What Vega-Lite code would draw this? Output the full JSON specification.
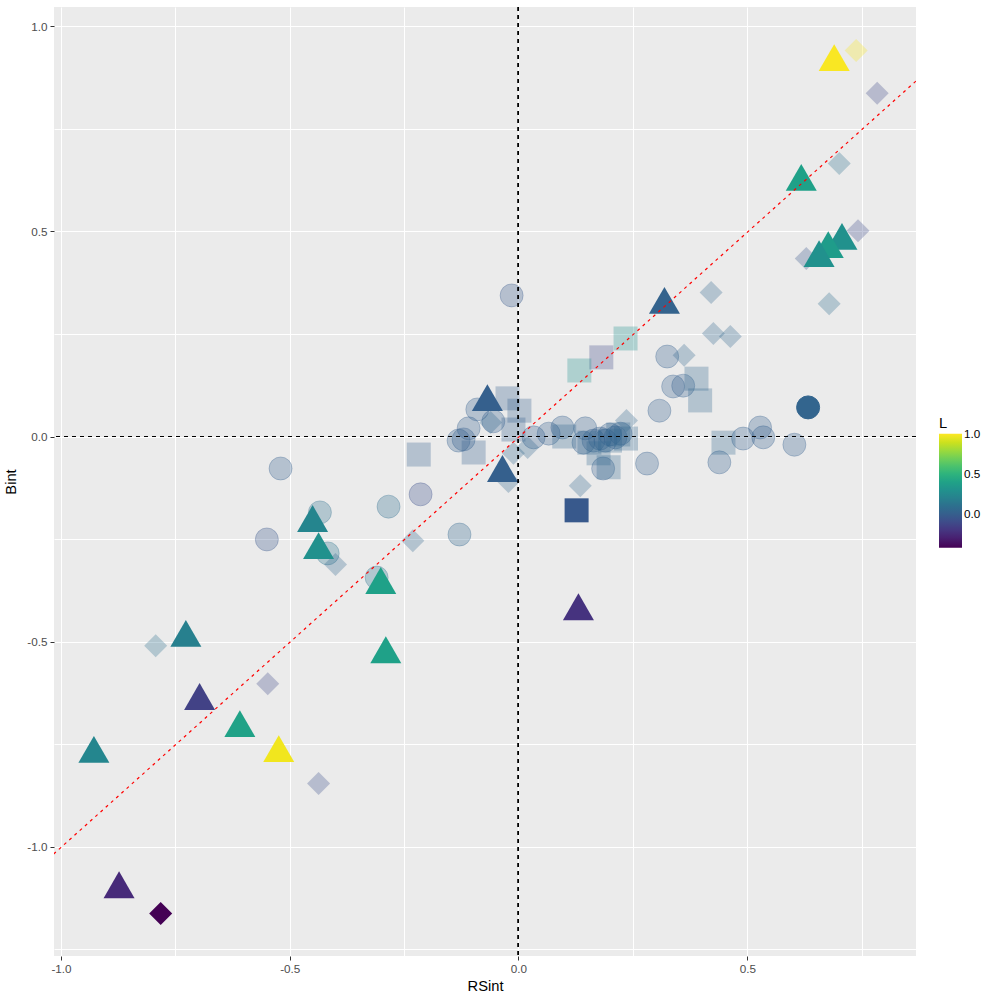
{
  "$schema": "https://vega.github.io/schema/vega-lite/v6.json",
  "description": "Bint vs RSint scatter, shape by type, colour by L, faded points not significant",
  "autosize": "none",
  "width": 862,
  "height": 949,
  "padding": {"left": 54, "top": 7, "right": 84, "bottom": 44},
  "background": "white",
  "config": {
    "font": "Liberation Sans",
    "view": {"fill": "#EBEBEB", "stroke": null},
    "axis": {
      "domain": false,
      "grid": true,
      "gridColor": "white",
      "gridWidth": 1,
      "tickColor": "#333333",
      "tickSize": 4,
      "tickWidth": 1,
      "labelColor": "#4D4D4D",
      "labelFontSize": 11.7,
      "labelPadding": 3,
      "titleColor": "black",
      "titleFontSize": 14.7,
      "titleFontWeight": "normal"
    },
    "legend": {
      "labelFont": "Liberation Sans",
      "labelFontSize": 11.7,
      "labelColor": "black",
      "labelOffset": 6,
      "titleFont": "Liberation Sans",
      "titleFontSize": 14.7,
      "titleFontWeight": "normal",
      "titleColor": "black"
    }
  },
  "datasets": {
    "pts": [
      {"RSint": -0.520, "Bint": -0.078, "L": 0.0, "type": "circle", "sig": "no"},
      {"RSint": -0.434, "Bint": -0.185, "L": 0.1, "type": "circle", "sig": "no"},
      {"RSint": -0.550, "Bint": -0.251, "L": -0.05, "type": "circle", "sig": "no"},
      {"RSint": -0.417, "Bint": -0.285, "L": 0.12, "type": "circle", "sig": "no"},
      {"RSint": -0.310, "Bint": -0.344, "L": 0.12, "type": "circle", "sig": "no"},
      {"RSint": -0.284, "Bint": -0.171, "L": 0.08, "type": "circle", "sig": "no"},
      {"RSint": -0.214, "Bint": -0.141, "L": -0.08, "type": "circle", "sig": "no"},
      {"RSint": -0.129, "Bint": -0.239, "L": 0.05, "type": "circle", "sig": "no"},
      {"RSint": -0.015, "Bint": 0.344, "L": -0.03, "type": "circle", "sig": "no"},
      {"RSint": -0.090, "Bint": 0.066, "L": 0.0, "type": "circle", "sig": "no"},
      {"RSint": -0.055, "Bint": 0.037, "L": 0.0, "type": "circle", "sig": "no"},
      {"RSint": -0.109, "Bint": 0.020, "L": 0.0, "type": "circle", "sig": "no"},
      {"RSint": -0.131, "Bint": -0.010, "L": 0.0, "type": "circle", "sig": "no"},
      {"RSint": -0.120, "Bint": -0.007, "L": 0.0, "type": "circle", "sig": "no"},
      {"RSint": 0.033, "Bint": -0.002, "L": 0.0, "type": "circle", "sig": "no"},
      {"RSint": 0.066, "Bint": 0.007, "L": 0.0, "type": "circle", "sig": "no"},
      {"RSint": 0.096, "Bint": 0.022, "L": 0.0, "type": "circle", "sig": "no"},
      {"RSint": 0.146, "Bint": 0.020, "L": 0.0, "type": "circle", "sig": "no"},
      {"RSint": 0.142, "Bint": -0.015, "L": 0.0, "type": "circle", "sig": "no"},
      {"RSint": 0.164, "Bint": -0.010, "L": 0.0, "type": "circle", "sig": "no"},
      {"RSint": 0.190, "Bint": -0.010, "L": 0.0, "type": "circle", "sig": "no"},
      {"RSint": 0.212, "Bint": -0.002, "L": 0.0, "type": "circle", "sig": "no"},
      {"RSint": 0.223, "Bint": 0.007, "L": 0.0, "type": "circle", "sig": "no"},
      {"RSint": 0.185, "Bint": -0.078, "L": 0.0, "type": "circle", "sig": "no"},
      {"RSint": 0.281, "Bint": -0.066, "L": 0.0, "type": "circle", "sig": "no"},
      {"RSint": 0.308, "Bint": 0.063, "L": 0.0, "type": "circle", "sig": "no"},
      {"RSint": 0.325, "Bint": 0.195, "L": 0.0, "type": "circle", "sig": "no"},
      {"RSint": 0.338, "Bint": 0.122, "L": 0.0, "type": "circle", "sig": "no"},
      {"RSint": 0.360, "Bint": 0.124, "L": 0.0, "type": "circle", "sig": "no"},
      {"RSint": 0.528, "Bint": 0.022, "L": 0.0, "type": "circle", "sig": "no"},
      {"RSint": 0.535, "Bint": -0.002, "L": 0.0, "type": "circle", "sig": "no"},
      {"RSint": 0.491, "Bint": -0.005, "L": 0.0, "type": "circle", "sig": "no"},
      {"RSint": 0.439, "Bint": -0.063, "L": 0.0, "type": "circle", "sig": "no"},
      {"RSint": 0.603, "Bint": -0.020, "L": 0.0, "type": "circle", "sig": "no"},
      {"RSint": 0.200, "Bint": 0.005, "L": 0.0, "type": "circle", "sig": "no"},
      {"RSint": 0.178, "Bint": -0.005, "L": 0.0, "type": "circle", "sig": "no"},
      {"RSint": 0.633, "Bint": 0.071, "L": 0.03, "type": "circle", "sig": "yes"},

      {"RSint": -0.218, "Bint": -0.044, "L": 0.0, "type": "square", "sig": "no"},
      {"RSint": -0.098, "Bint": -0.039, "L": 0.0, "type": "square", "sig": "no"},
      {"RSint": -0.024, "Bint": 0.093, "L": 0.0, "type": "square", "sig": "no"},
      {"RSint": 0.002, "Bint": 0.063, "L": 0.0, "type": "square", "sig": "no"},
      {"RSint": -0.011, "Bint": 0.017, "L": 0.0, "type": "square", "sig": "no"},
      {"RSint": 0.234, "Bint": 0.239, "L": 0.3, "type": "square", "sig": "no"},
      {"RSint": 0.181, "Bint": 0.193, "L": -0.12, "type": "square", "sig": "no"},
      {"RSint": 0.133, "Bint": 0.161, "L": 0.3, "type": "square", "sig": "no"},
      {"RSint": 0.389, "Bint": 0.141, "L": 0.05, "type": "square", "sig": "no"},
      {"RSint": 0.397, "Bint": 0.088, "L": 0.05, "type": "square", "sig": "no"},
      {"RSint": 0.448, "Bint": -0.015, "L": 0.05, "type": "square", "sig": "no"},
      {"RSint": 0.175, "Bint": -0.041, "L": 0.05, "type": "square", "sig": "no"},
      {"RSint": 0.197, "Bint": -0.075, "L": 0.05, "type": "square", "sig": "no"},
      {"RSint": 0.100, "Bint": 0.000, "L": 0.05, "type": "square", "sig": "no"},
      {"RSint": 0.155, "Bint": -0.015, "L": 0.05, "type": "square", "sig": "no"},
      {"RSint": 0.200, "Bint": -0.010, "L": 0.05, "type": "square", "sig": "no"},
      {"RSint": 0.218, "Bint": 0.005, "L": 0.05, "type": "square", "sig": "no"},
      {"RSint": 0.235, "Bint": -0.005, "L": 0.05, "type": "square", "sig": "no"},

      {"RSint": 0.738, "Bint": 0.941, "L": 1.0, "type": "diamond", "sig": "no"},
      {"RSint": 0.784, "Bint": 0.837, "L": -0.12, "type": "diamond", "sig": "no"},
      {"RSint": 0.701, "Bint": 0.666, "L": 0.1, "type": "diamond", "sig": "no"},
      {"RSint": 0.742, "Bint": 0.502, "L": -0.1, "type": "diamond", "sig": "no"},
      {"RSint": 0.629, "Bint": 0.434, "L": -0.05, "type": "diamond", "sig": "no"},
      {"RSint": 0.679, "Bint": 0.324, "L": 0.08, "type": "diamond", "sig": "no"},
      {"RSint": -0.793, "Bint": -0.510, "L": 0.1, "type": "diamond", "sig": "no"},
      {"RSint": -0.548, "Bint": -0.603, "L": -0.12, "type": "diamond", "sig": "no"},
      {"RSint": -0.437, "Bint": -0.846, "L": -0.08, "type": "diamond", "sig": "no"},
      {"RSint": -0.400, "Bint": -0.312, "L": 0.05, "type": "diamond", "sig": "no"},
      {"RSint": -0.231, "Bint": -0.254, "L": 0.05, "type": "diamond", "sig": "no"},
      {"RSint": -0.022, "Bint": -0.110, "L": 0.05, "type": "diamond", "sig": "no"},
      {"RSint": -0.011, "Bint": -0.041, "L": 0.05, "type": "diamond", "sig": "no"},
      {"RSint": 0.020, "Bint": -0.027, "L": 0.05, "type": "diamond", "sig": "no"},
      {"RSint": -0.061, "Bint": 0.034, "L": 0.05, "type": "diamond", "sig": "no"},
      {"RSint": 0.135, "Bint": -0.120, "L": 0.05, "type": "diamond", "sig": "no"},
      {"RSint": 0.236, "Bint": 0.039, "L": 0.05, "type": "diamond", "sig": "no"},
      {"RSint": 0.362, "Bint": 0.198, "L": 0.05, "type": "diamond", "sig": "no"},
      {"RSint": 0.426, "Bint": 0.251, "L": 0.05, "type": "diamond", "sig": "no"},
      {"RSint": 0.463, "Bint": 0.244, "L": 0.05, "type": "diamond", "sig": "no"},
      {"RSint": 0.421, "Bint": 0.351, "L": 0.05, "type": "diamond", "sig": "no"},

      {"RSint": 0.127, "Bint": -0.180, "L": -0.03, "type": "square", "sig": "yes"},
      {"RSint": -0.782, "Bint": -1.163, "L": -0.43, "type": "diamond", "sig": "yes"},

      {"RSint": 0.690, "Bint": 0.924, "L": 1.0, "type": "triangle", "sig": "yes"},
      {"RSint": 0.618, "Bint": 0.632, "L": 0.39, "type": "triangle", "sig": "yes"},
      {"RSint": 0.707, "Bint": 0.488, "L": 0.29, "type": "triangle", "sig": "yes"},
      {"RSint": 0.677, "Bint": 0.468, "L": 0.36, "type": "triangle", "sig": "yes"},
      {"RSint": 0.657, "Bint": 0.446, "L": 0.29, "type": "triangle", "sig": "yes"},
      {"RSint": -0.727, "Bint": -0.480, "L": 0.19, "type": "triangle", "sig": "yes"},
      {"RSint": -0.697, "Bint": -0.634, "L": -0.15, "type": "triangle", "sig": "yes"},
      {"RSint": -0.609, "Bint": -0.700, "L": 0.40, "type": "triangle", "sig": "yes"},
      {"RSint": -0.928, "Bint": -0.763, "L": 0.23, "type": "triangle", "sig": "yes"},
      {"RSint": -0.524, "Bint": -0.761, "L": 0.98, "type": "triangle", "sig": "yes"},
      {"RSint": -0.873, "Bint": -1.093, "L": -0.26, "type": "triangle", "sig": "yes"},
      {"RSint": -0.450, "Bint": -0.200, "L": 0.22, "type": "triangle", "sig": "yes"},
      {"RSint": -0.437, "Bint": -0.266, "L": 0.29, "type": "triangle", "sig": "yes"},
      {"RSint": -0.301, "Bint": -0.351, "L": 0.39, "type": "triangle", "sig": "yes"},
      {"RSint": -0.290, "Bint": -0.520, "L": 0.39, "type": "triangle", "sig": "yes"},
      {"RSint": -0.035, "Bint": -0.078, "L": 0.0, "type": "triangle", "sig": "yes"},
      {"RSint": -0.068, "Bint": 0.095, "L": 0.0, "type": "triangle", "sig": "yes"},
      {"RSint": 0.319, "Bint": 0.332, "L": 0.02, "type": "triangle", "sig": "yes"},
      {"RSint": 0.131, "Bint": -0.415, "L": -0.22, "type": "triangle", "sig": "yes"}
    ],
    "diag": [
      {"RSint": -1.016, "Bint": -1.018},
      {"RSint": 0.870, "Bint": 0.868}
    ]
  },
  "data": {"name": "pts"},
  "encoding": {
    "x": {
      "field": "RSint", "type": "quantitative", "title": "RSint",
      "scale": {"domain": [-1.0152, 0.8688], "nice": false, "zero": false},
      "axis": {
        "values": [-1, -0.75, -0.5, -0.25, 0, 0.25, 0.5, 0.75],
        "labelExpr": "abs(datum.value*2 - round(datum.value*2)) < 0.001 ? replace(format(datum.value, '.1f'), '\u2212', '-') : ''",
        "tickOpacity": {"condition": {"test": "abs(datum.value*2 - round(datum.value*2)) < 0.001", "value": 1}, "value": 0},
        "titlePadding": 4
      }
    },
    "y": {
      "field": "Bint", "type": "quantitative", "title": "Bint",
      "scale": {"domain": [-1.2667, 1.0473], "nice": false, "zero": false},
      "axis": {
        "values": [-1.25, -1, -0.75, -0.5, -0.25, 0, 0.25, 0.5, 0.75, 1],
        "labelExpr": "abs(datum.value*2 - round(datum.value*2)) < 0.001 ? replace(format(datum.value, '.1f'), '\u2212', '-') : ''",
        "tickOpacity": {"condition": {"test": "abs(datum.value*2 - round(datum.value*2)) < 0.001", "value": 1}, "value": 0},
        "titlePadding": 8
      }
    }
  },
  "layer": [
    {
      "transform": [{"filter": "datum.type === 'circle'"}],
      "mark": {"type": "point", "shape": "circle", "filled": true, "size": 529, "strokeWidth": 0, "opacity": 1},
      "encoding": {
        "color": {
          "field": "L", "type": "quantitative", "title": "L",
          "scale": {"scheme": "viridis", "domain": [-0.43, 1.01]},
          "legend": {
            "orient": "none", "legendX": 885, "legendY": 409, "direction": "vertical",
            "values": [0, 0.5, 1], "format": ".1f",
            "gradientLength": 114, "gradientThickness": 23, "gradientStrokeWidth": 0,
            "titlePadding": 3
          }
        },
        "fillOpacity": {"field": "sig", "type": "nominal", "scale": {"type": "ordinal", "domain": ["no", "yes"], "range": [0.3, 1]}, "legend": null}
      }
    },
    {
      "transform": [{"filter": "datum.type === 'circle'"}],
      "mark": {"type": "point", "shape": "circle", "filled": false, "size": 529, "strokeWidth": 1, "opacity": 1},
      "encoding": {
        "stroke": {"field": "L", "type": "quantitative", "scale": {"scheme": "viridis", "domain": [-0.4300001, 1.0100001]}, "legend": null},
        "strokeOpacity": {"field": "sig", "type": "nominal", "scale": {"type": "ordinal", "domain": ["no", "yes"], "range": [0.3, 1]}, "legend": null}
      }
    },
    {
      "transform": [{"filter": "datum.type !== 'circle'"}],
      "mark": {"type": "point", "filled": true, "strokeWidth": 0, "opacity": 1},
      "encoding": {
        "color": {"field": "L", "type": "quantitative"},
        "shape": {"field": "type", "type": "nominal", "scale": {"domain": ["square", "diamond", "triangle"], "range": ["square", "diamond", "triangle-up"]}, "legend": null},
        "size": {"field": "type", "type": "nominal", "scale": {"type": "ordinal", "domain": ["square", "diamond", "triangle"], "range": [576, 529, 961]}, "legend": null},
        "fillOpacity": {"field": "sig", "type": "nominal", "scale": {"type": "ordinal", "domain": ["no", "yes"], "range": [0.3, 1]}, "legend": null}
      }
    },
    {
      "mark": {"type": "rule", "color": "black", "strokeDash": [4, 4], "strokeWidth": 1},
      "encoding": {"x": {"datum": 0}, "y": null}
    },
    {
      "mark": {"type": "rule", "color": "black", "strokeDash": [4, 4], "strokeWidth": 1},
      "encoding": {"y": {"datum": 0}, "x": null}
    },
    {
      "data": {"name": "diag"},
      "mark": {"type": "line", "color": "red", "strokeDash": [3, 4], "strokeWidth": 1.2, "clip": true},
      "encoding": {}
    }
  ]
}
